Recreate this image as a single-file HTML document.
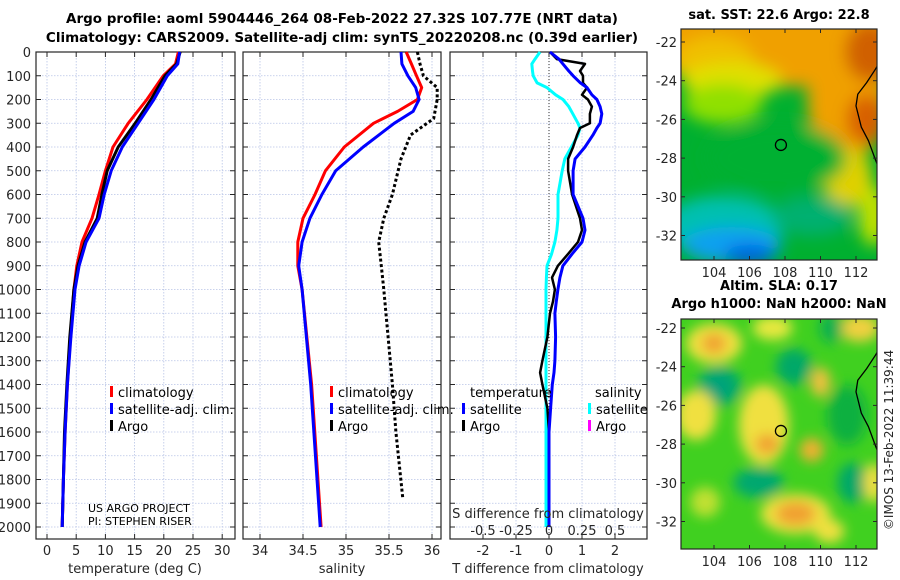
<!DOCTYPE html>
<html><head><meta charset="utf-8">
<style>
html,body{margin:0;padding:0;background:#fff;}
svg{display:block;font-family:"DejaVu Sans","Liberation Sans",sans-serif;}
</style></head>
<body>
<svg id="fig" width="900" height="580" viewBox="0 0 900 580" xmlns="http://www.w3.org/2000/svg">
<defs>
<filter id="blurA" x="-50%" y="-50%" width="200%" height="200%"><feGaussianBlur stdDeviation="8"/></filter>
<filter id="blurB" x="-50%" y="-50%" width="200%" height="200%"><feGaussianBlur stdDeviation="6"/></filter>
<clipPath id="clipMap1"><rect x="681" y="29" width="196" height="231"/></clipPath>
<clipPath id="clipMap2"><rect x="681" y="319" width="196" height="230"/></clipPath>
</defs>
<text x="342" y="23" text-anchor="middle" font-size="13.5" font-weight="bold">Argo profile: aoml 5904446_264 08-Feb-2022 27.32S 107.77E (NRT data)</text>
<text x="342" y="42" text-anchor="middle" font-size="13.5" font-weight="bold">Climatology: CARS2009. Satellite-adj clim: synTS_20220208.nc (0.39d earlier)</text>
<g id="panels"></g>
<g id="maps"></g>
<text x="0" y="0" transform="translate(893,440) rotate(-90)" text-anchor="middle" font-size="12" fill="#262626">©IMOS 13-Feb-2022 11:39:44</text>
</svg>
<script>
// ---------- data ----------
const depthTicks = [0,100,200,300,400,500,600,700,800,900,1000,1100,1200,1300,1400,1500,1600,1700,1800,1900,2000];
const tempTicks = [0,5,10,15,20,25,30];
const salTicks = [34,34.5,35,35.5,36];
const salTickLabels = ["34","34.5","35","35.5","36"];
const tdiffTicks = [-2,-1,0,1,2];
const sdiffTickLabels = ["-0.5","-0.25","0","0.25","0.5"];
const sdiffTicks = [-0.5,-0.25,0,0.25,0.5];

const tDepth = [0,50,100,200,300,400,500,600,700,800,900,1000,1200,1400,1600,1800,2000];
const tClim  = [22.5,22.0,19.9,17.1,13.9,11.3,10.0,8.9,7.7,6.0,5.1,4.6,4.0,3.5,3.1,2.8,2.6];
const tSat   = [22.7,22.4,20.6,18.3,15.6,12.9,11.0,9.8,8.9,6.7,5.5,4.8,4.1,3.5,3.1,2.8,2.6];
const tArgo  = [22.8,22.2,20.2,17.8,15.1,12.2,10.3,9.4,8.6,6.5,5.3,4.6,3.9,3.4,3.0,2.8,2.6];

const sDepth = [0,50,100,150,200,250,300,400,500,600,700,800,900,1000,1400,2000];
const sClim  = [35.70,35.76,35.82,35.88,35.83,35.60,35.32,34.98,34.76,34.64,34.50,34.44,34.44,34.49,34.60,34.71];
const sSat   = [35.64,35.65,35.72,35.81,35.85,35.78,35.56,35.20,34.88,34.72,34.58,34.49,34.45,34.49,34.59,34.70];
const argoSDepth = [0,50,100,150,200,280,350,450,600,700,800,900,1000,1400,1600,1880];
const sArgo  = [35.83,35.86,35.90,36.06,36.06,36.02,35.75,35.64,35.54,35.44,35.38,35.41,35.44,35.54,35.58,35.66];

const dDepth = [0,30,50,80,100,130,150,180,200,230,260,300,320,350,400,450,500,600,700,750,800,850,900,950,1000,1050,1100,1200,1300,1350,1400,1500,1600,1800,2000];
const dTSat  = [0.03,0.3,0.42,0.6,0.73,0.95,1.15,1.3,1.45,1.55,1.6,1.55,1.45,1.33,1.09,0.79,0.73,0.73,1.03,1.09,1.0,0.7,0.42,0.33,0.27,0.22,0.18,0.2,0.18,0.15,0.1,0.05,0.0,0.0,0.0];
const dTArgo = [0.03,0.24,1.09,0.94,1.03,1.03,1.15,1.0,1.18,1.3,1.24,1.24,0.94,0.85,0.73,0.58,0.58,0.7,0.94,1.0,0.88,0.58,0.27,0.09,0.18,0.12,0.03,-0.05,-0.2,-0.27,-0.2,-0.05,0.0,0.0,0.0];
const dSSat  = [-0.068,-0.106,-0.13,-0.125,-0.12,-0.09,-0.015,0.05,0.106,0.15,0.18,0.22,0.235,0.22,0.17,0.12,0.1,0.068,0.068,0.06,0.045,0.02,-0.015,-0.02,-0.023,-0.023,-0.023,-0.023,-0.023,-0.023,-0.023,-0.023,-0.023,-0.023,-0.023];

// ---------- helpers ----------
const NS="http://www.w3.org/2000/svg";
function mk(tag,attrs,parent){const e=document.createElementNS(NS,tag);for(const k in attrs)e.setAttribute(k,attrs[k]);parent.appendChild(e);return e;}
const Y0=52, YB=539, PXM=0.2375;
const yD = d => Y0 + d*PXM;
const panels=document.getElementById('panels');

function makePanel(x0,x1,xs,ticks,labels,name,showY){
  const g=mk('g',{},panels);
  
  
  ticks.forEach(t=>{const x=xs(t);mk('line',{x1:x,x2:x,y1:Y0,y2:YB,stroke:'#b8c4e6','stroke-width':0.8,'stroke-dasharray':'1.5,1.5'},g);});
  depthTicks.forEach(d=>{const y=yD(d);mk('line',{x1:x0,x2:x1,y1:y,y2:y,stroke:'#b8c4e6','stroke-width':0.8,'stroke-dasharray':'1.5,1.5'},g);
    mk('line',{x1:x0,x2:x0+5,y1:y,y2:y,stroke:'#262626'},g);mk('line',{x1:x1-5,x2:x1,y1:y,y2:y,stroke:'#262626'},g);
    if(showY){const t=mk('text',{x:x0-5,y:y+5,'text-anchor':'end','font-size':13,fill:'#262626'},g);t.textContent=d;
      
      }
  });
  ticks.forEach((t,i)=>{const x=xs(t);mk('line',{x1:x,x2:x,y1:YB,y2:YB-5,stroke:'#262626'},g);mk('line',{x1:x,x2:x,y1:Y0,y2:Y0+5,stroke:'#262626'},g);
    const tx=mk('text',{x:x,y:555,'text-anchor':'middle','font-size':13,fill:'#262626'},g);tx.textContent=labels[i];
    
    });
  mk('rect',{x:x0,y:Y0,width:x1-x0,height:YB-Y0,fill:'none',stroke:'#262626','stroke-width':1.2},g);
  return g;
}
function line(g,xs,vals,deps,color,w,dash,name){
  const p=vals.map((v,i)=>xs(v).toFixed(1)+','+yD(deps[i]).toFixed(1)).join(' ');
  const e=mk('polyline',{points:p,fill:'none',stroke:color,'stroke-width':w,'stroke-linejoin':'round'},g);
  if(dash)e.setAttribute('stroke-dasharray',dash);
  
  
}
function txt(g,x,y,s,size,name,anchor,color){const t=mk('text',{x:x,y:y,'font-size':size,fill:color||'#000','text-anchor':anchor||'start'},g);t.textContent=s;
  
  return t;}
function legMark(g,x,y,color){mk('rect',{x:x,y:y-11,width:3,height:11,fill:color},g);}

// Panel 1 temperature
const xT = v => 47 + v*5.84;
const g1=makePanel(36,235,xT,tempTicks,tempTicks.map(String),'temperature-panel',true);
line(g1,xT,tClim,tDepth,'#f00',3,null,'temperature-climatology-line');
line(g1,xT,tArgo,tDepth,'#000',3,null,'temperature-argo-line');
line(g1,xT,tSat,tDepth,'#00f',3,null,'temperature-satellite-line');
txt(g1,135,573,'temperature (deg C)',13,'temperature-axis-title','middle','#262626');
legMark(g1,110,397,'#f00');txt(g1,118,397,'climatology',13,'legend-climatology');
legMark(g1,110,414,'#00f');txt(g1,118,414,'satellite-adj. clim.',13,'legend-satellite');
legMark(g1,110,431,'#000');txt(g1,118,431,'Argo',13,'legend-argo');
txt(g1,88,512,'US ARGO PROJECT',11,'project-label');
txt(g1,88,525,'PI: STEPHEN RISER',11,'pi-label');

// Panel 2 salinity
const xS = v => 260 + (v-34)*86;
const g2=makePanel(243,441,xS,salTicks,salTickLabels,'salinity-panel',false);
line(g2,xS,sArgo,argoSDepth,'#000',3,'3,2.5','salinity-argo-line');
line(g2,xS,sClim,sDepth,'#f00',3,null,'salinity-climatology-line');
line(g2,xS,sSat,sDepth,'#00f',3,null,'salinity-satellite-line');
txt(g2,342,573,'salinity',13,'salinity-axis-title','middle','#262626');
legMark(g2,330,397,'#f00');txt(g2,338,397,'climatology',13,'legend-climatology');
legMark(g2,330,414,'#00f');txt(g2,338,414,'satellite-adj. clim.',13,'legend-satellite');
legMark(g2,330,431,'#000');txt(g2,338,431,'Argo',13,'legend-argo');

// Panel 3 differences
const xD = v => 549 + v*33;
const xSD = v => 549 + v*132;
const g3=makePanel(450,647,xD,tdiffTicks,tdiffTicks.map(String),'difference-panel',false);
mk('line',{x1:549,x2:549,y1:Y0,y2:YB,stroke:'#333','stroke-width':1,'stroke-dasharray':'1,2'},g3);
line(g3,xSD,dSSat,dDepth,'#0ff',3,null,'salinity-diff-satellite-line');
line(g3,xD,dTArgo,dDepth,'#000',2.5,null,'temperature-diff-argo-line');
line(g3,xD,dTSat,dDepth,'#00f',3,null,'temperature-diff-satellite-line');
txt(g3,548,573,'T difference from climatology',13,'tdiff-axis-title','middle','#262626');
txt(g3,548,518,'S difference from climatology',13,'sdiff-axis-title','middle','#262626');
sdiffTicks.forEach((v,i)=>{txt(g3,xSD(v),535,sdiffTickLabels[i],13,'sdiff-tick-label','middle','#262626');});
txt(g3,470,397,'temperature',13,'legend-temperature-header');
txt(g3,595,397,'salinity',13,'legend-salinity-header');
legMark(g3,462,414,'#00f');txt(g3,470,414,'satellite',13,'legend-t-satellite');
legMark(g3,462,431,'#000');txt(g3,470,431,'Argo',13,'legend-t-argo');
legMark(g3,588,414,'#0ff');txt(g3,596,414,'satellite',13,'legend-s-satellite');
legMark(g3,588,431,'#f0f');txt(g3,596,431,'Argo',13,'legend-s-argo');

// ---------- maps ----------
const lonTicks=[104,106,108,110,112];
const latTicks=[-22,-24,-26,-28,-30,-32];
const argoLon=107.77, argoLat=-27.32;
const maps=document.getElementById('maps');
const xLon = v => 714 + (v-104)*17.75;
function makeMap(top,bot,yLat0,clip,name,title1,title2,blobs,base,filt){
  const g=mk('g',{},maps);
  
  
  const yLat = v => yLat0 + (-22 - v)*19.35;
  const inner=mk('g',{'clip-path':'url(#'+clip+')'},g);
  mk('rect',{x:681,y:top,width:196,height:bot-top,fill:base},inner);
  const bg=mk('g',{filter:'url(#'+filt+')'},inner);
  blobs.forEach(b=>mk('ellipse',{cx:xLon(b[0]),cy:yLat(b[1]),rx:b[2],ry:b[3],fill:b[4]},bg));
  const coast=[[113.6,-22.6],[113.1,-23.4],[112.6,-24.1],[112.1,-24.7],[112.0,-25.3],[112.3,-26.4],[112.7,-27.1],[113.1,-28.1],[113.5,-29.0]];
  mk('polyline',{points:coast.map(c=>xLon(c[0])+','+yLat(c[1])).join(' '),fill:'none',stroke:'#000','stroke-width':1.3},inner);
  mk('rect',{x:681,y:top,width:196,height:bot-top,fill:'none',stroke:'#262626','stroke-width':1.2},g);
  const c=mk('circle',{cx:xLon(argoLon),cy:yLat(argoLat),r:5.5,fill:'none',stroke:'#000','stroke-width':1.3},g);
  
  
  lonTicks.forEach(v=>{const x=xLon(v);mk('line',{x1:x,x2:x,y1:bot,y2:bot-4,stroke:'#262626'},g);mk('line',{x1:x,x2:x,y1:top,y2:top+4,stroke:'#262626'},g);
    txt(g,x,bot+17,String(v),13,'lon-tick-label','middle','#262626');});
  latTicks.forEach(v=>{const y=yLat(v);mk('line',{x1:681,x2:685,y1:y,y2:y,stroke:'#262626'},g);mk('line',{x1:877,x2:873,y1:y,y2:y,stroke:'#262626'},g);
    txt(g,677,y+5,String(v),13,'lat-tick-label','end','#262626');});
  txt(g,779,title2?top-29:top-10,title1,13,'map-title','middle').setAttribute('font-weight','bold');
  if(title2)txt(g,779,top-11,title2,13,'map-subtitle','middle').setAttribute('font-weight','bold');
}
const sstBlobs=[
 [108,-22,150,45,'#f0a000'],[104,-23,40,25,'#f0c000'],
 [105,-24,50,18,'#e0e000'],[104.5,-25.2,40,20,'#90e000'],
 [111.5,-25,40,60,'#f0a000'],[112.8,-22.5,25,30,'#d06000'],[112.6,-26,20,25,'#d86000'],
 [111.5,-29,25,30,'#e0d000'],[113,-31,15,30,'#c0e000'],
 [107.5,-28,70,35,'#00b030'],
 [104.5,-31.5,60,30,'#00c0b0'],[105,-32.5,50,18,'#10a0f0'],[106,-33,25,10,'#0060e0'],[109.5,-31,40,20,'#00b070']];
makeMap(29,260,42,'clipMap1','sst-map','sat. SST: 22.6 Argo: 22.8',null,sstBlobs,'#00b030','blurA');
const slaBlobs=[
 [104,-22.8,28,20,'#f0e040'],[104,-22.8,12,10,'#f0a030'],[107.3,-22,20,12,'#e8e840'],[112.2,-22,20,14,'#f0d040'],
 [104.3,-25,22,20,'#00a870'],[104.3,-25,8,8,'#00a080'],[108.5,-24,18,18,'#00a868'],[110.6,-22,12,15,'#10b050'],
 [111.5,-26.5,20,30,'#10b040'],[106.5,-30,25,15,'#00a870'],[111.8,-30,15,20,'#00a868'],
 [103,-26.5,20,25,'#f0e040'],[106.8,-27,25,40,'#f0e040'],[107,-28,12,10,'#f0a030'],[109.5,-28.3,12,12,'#f0b030'],
 [110,-24.8,10,15,'#f0c040'],[108.6,-31.6,35,20,'#f0e040'],[108.6,-31.6,20,12,'#f0a030'],
 [110.5,-32.5,15,12,'#f0e040'],[103.5,-31,15,15,'#c0e030'],[113,-30,10,20,'#f0e040']];
makeMap(319,549,328,'clipMap2','sla-map','Altim. SLA: 0.17','Argo h1000: NaN h2000: NaN',slaBlobs,'#40d020','blurB');
</script>
</body></html>
